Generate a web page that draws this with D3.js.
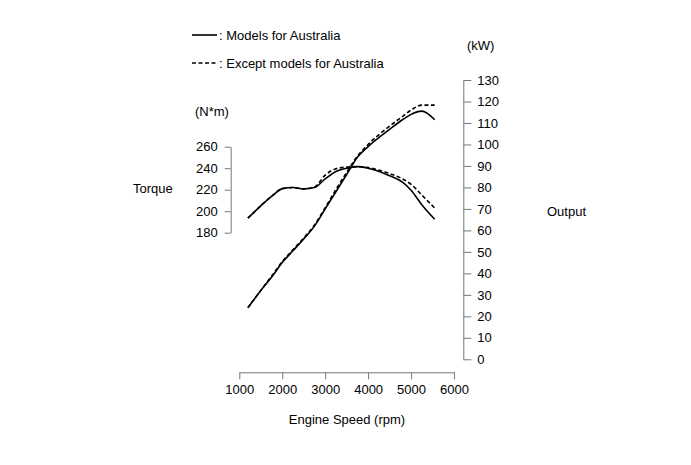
<!DOCTYPE html>
<html><head><meta charset="utf-8">
<script src="https://cdn.jsdelivr.net/npm/d3@7/dist/d3.min.js"></script>
<style>
body{margin:0;background:#fff;}
text{font-family:"Liberation Sans",Arial,sans-serif;font-size:13px;fill:#000;}
</style></head><body>
<svg id="c" width="691" height="465"></svg>
<script>
const rpm = [1200, 1500, 1800, 2000, 2250, 2500, 2750, 3000, 3250, 3500, 3750, 4000, 4500, 4800, 5000, 5250, 5550];
const torqueAus    = [193.5, 205, 215.5, 221, 222, 220.8, 222, 230, 237, 240, 241.5, 240, 233, 227, 219.5, 206, 192.5];
const torqueOther  = [193.5, 205, 215.5, 221, 222, 220.8, 222.5, 233.5, 239.5, 241, 241.5, 240.5, 235, 230, 225, 215, 203];
const outputAus    = [24, 32, 39.5, 45, 50.5, 56, 62, 70, 78, 86, 94, 99, 107, 111.5, 114, 115.5, 111.5];
const outputOther  = [24, 32, 40, 45.5, 51, 56.5, 62.5, 70.5, 79, 87, 94.5, 100, 108.5, 113, 116, 118.3, 118.3];
const rpmTicks = [1000, 2000, 3000, 4000, 5000, 6000];
const torqueTicks = [180, 200, 220, 240, 260];
const outputTicks = [0,10,20,30,40,50,60,70,80,90,100,110,120,130];

const svg = d3.select("#c");
const x = d3.scaleLinear().domain([1000, 6000]).range([239.3, 454]);
const yT = d3.scaleLinear().domain([180, 260]).range([232.7, 146.7]);
const yP = d3.scaleLinear().domain([0, 130]).range([359.3, 80]);

const axisColor = "#777";
function styleAxis(g){
  g.selectAll("path,line").attr("stroke", axisColor).attr("stroke-width", 1);
  g.selectAll("text").style("font-size","13px").attr("fill","#000");
}
svg.append("g").attr("transform","translate(0,372.3)")
  .call(d3.axisBottom(x).tickValues(rpmTicks).tickFormat(d3.format("d")).tickSizeInner(7).tickSizeOuter(0).tickPadding(5))
  .call(styleAxis);
svg.append("g").attr("transform","translate(230.7,0)")
  .call(d3.axisLeft(yT).tickValues(torqueTicks).tickSizeInner(6).tickSizeOuter(0).tickPadding(7))
  .call(styleAxis);
svg.append("g").attr("transform","translate(463.3,0)")
  .call(d3.axisRight(yP).tickValues(outputTicks).tickSizeInner(8).tickSizeOuter(0).tickPadding(6))
  .call(styleAxis);
svg.selectAll(".domain").attr("stroke", axisColor);

const lT = d3.line().x((d,i)=>x(rpm[i])).y(d=>yT(d)).curve(d3.curveMonotoneX);
const lP = d3.line().x((d,i)=>x(rpm[i])).y(d=>yP(d)).curve(d3.curveMonotoneX);
const dash = "4,2.5";
svg.append("path").datum(torqueOther).attr("d", lT).attr("fill","none").attr("stroke","#000").attr("stroke-width",1.6).attr("stroke-dasharray",dash);
svg.append("path").datum(outputOther).attr("d", lP).attr("fill","none").attr("stroke","#000").attr("stroke-width",1.6).attr("stroke-dasharray",dash);
svg.append("path").datum(torqueAus).attr("d", lT).attr("fill","none").attr("stroke","#000").attr("stroke-width",1.6);
svg.append("path").datum(outputAus).attr("d", lP).attr("fill","none").attr("stroke","#000").attr("stroke-width",1.6);

// legend
svg.append("line").attr("x1",192).attr("x2",217).attr("y1",35).attr("y2",35).attr("stroke","#000").attr("stroke-width",1.6);
svg.append("text").attr("x",219).attr("y",39.5).text(": Models for Australia");
svg.append("line").attr("x1",192).attr("x2",217).attr("y1",63).attr("y2",63).attr("stroke","#000").attr("stroke-width",1.4).attr("stroke-dasharray","4,2.5");
svg.append("text").attr("x",219).attr("y",67.5).text(": Except models for Australia");

// labels
svg.append("text").attr("x",195).attr("y",115.5).text("(N*m)");
svg.append("text").attr("x",467).attr("y",49.5).text("(kW)");
svg.append("text").attr("x",133).attr("y",192.5).text("Torque");
svg.append("text").attr("x",547).attr("y",215.5).text("Output");
svg.append("text").attr("x",347).attr("y",423.5).attr("text-anchor","middle").text("Engine Speed (rpm)");
</script></body></html>
